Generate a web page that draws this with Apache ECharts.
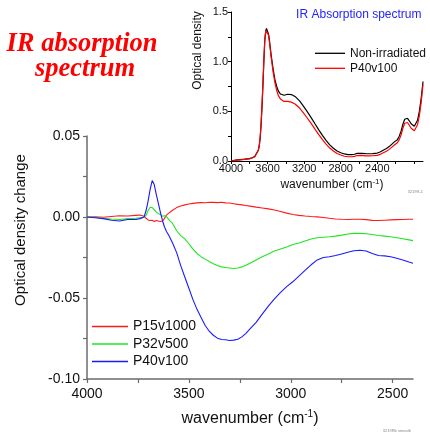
<!DOCTYPE html>
<html>
<head>
<meta charset="utf-8">
<script src="https://cdn.jsdelivr.net/npm/echarts@6/dist/echarts.min.js"></script>
<style>
html,body{margin:0;padding:0;background:#fff;}
#chart{width:430px;height:434px;}
</style>
</head>
<body>
<div id="chart"></div>
<script>
// ---- main chart data (optical density change) ----
const mainWavenumbers = [4000,3960,3920,3880,3840,3800,3760,3740,3720,3710,3700,3690,3680,3670,3660,3650,3640,3630,3620,3610,3600,3580,3560,3540,3520,3500,3480,3460,3440,3420,3400,3380,3360,3340,3320,3300,3280,3260,3240,3220,3200,3170,3140,3110,3080,3050,3020,2990,2960,2930,2900,2870,2840,2810,2780,2750,2720,2690,2660,2630,2600,2570,2540,2510,2480,2450,2420,2400];
const p15v1000 = [0.000,0.0002,-0.0002,0.0003,0.0008,0.0006,0.0010,0.0012,0.0005,-0.0008,
 -0.0018,-0.0022,-0.0020,-0.0028,-0.0022,-0.0025,-0.0028,-0.0025,-0.001,0.0012,
 0.0022,0.0042,0.0058,0.0068,0.0075,0.0080,0.0084,0.0087,0.0089,0.0088,
 0.0091,0.0090,0.0089,0.0091,0.0087,0.0086,0.0082,0.0078,0.0075,0.0071,
 0.0067,0.0061,0.0056,0.0050,0.0043,0.0034,0.0024,0.0015,0.0010,0.0006,
 0.0003,0.0001,-0.0003,-0.0008,-0.0012,-0.0014,-0.0015,-0.0014,-0.0014,-0.0016,
 -0.0021,-0.0022,-0.0020,-0.0018,-0.0016,-0.0015,-0.0014,-0.0014];
const p32v500 = [0.000,-0.0003,-0.0008,-0.0012,-0.0015,-0.001,-0.0008,-0.0005,-0.0002,0.001,
 0.004,0.006,0.0058,0.0045,0.003,0.0022,0.0015,0.0005,0.0008,0.0003,
 -0.0015,-0.004,-0.0085,-0.0115,-0.0135,-0.0165,-0.0198,-0.0225,-0.0245,-0.026,
 -0.0275,-0.0288,-0.030,-0.0308,-0.0312,-0.0315,-0.0318,-0.0315,-0.0308,-0.0298,
 -0.0285,-0.0265,-0.0245,-0.0228,-0.021,-0.0197,-0.0185,-0.017,-0.016,-0.0148,
 -0.0136,-0.0128,-0.0125,-0.0122,-0.0118,-0.0112,-0.0105,-0.0101,-0.0101,-0.0103,
 -0.0108,-0.0114,-0.0118,-0.0122,-0.0128,-0.0134,-0.0141,-0.0146];
const p40v100Change = [0.000,-0.0005,-0.001,-0.002,-0.0025,-0.0015,-0.0015,-0.001,0.000,0.004,
 0.010,0.017,0.0225,0.020,0.014,0.0085,0.003,-0.002,-0.006,-0.009,
 -0.011,-0.016,-0.022,-0.030,-0.037,-0.044,-0.051,-0.057,-0.062,-0.067,
 -0.0705,-0.073,-0.0748,-0.0756,-0.0758,-0.0762,-0.0760,-0.0755,-0.074,-0.0718,
 -0.069,-0.065,-0.060,-0.055,-0.0505,-0.0465,-0.043,-0.040,-0.0365,-0.033,
 -0.0295,-0.0265,-0.025,-0.0245,-0.0238,-0.0228,-0.0218,-0.0208,-0.0205,-0.021,
 -0.0225,-0.0238,-0.024,-0.0245,-0.0255,-0.0265,-0.0278,-0.0286];
const mainXLabels = [4000,3500,3000,2500];
const mainXTicks = [4000,3750,3500,3250,3000,2750,2500];
const mainYLabels = [0.05,0,-0.05,-0.10];
const mainYTicks = [0.05,0.025,0,-0.025,-0.05,-0.075,-0.10];

// ---- inset data (optical density) ----
const insetWavenumbers = [4000,3950,3900,3850,3800,3770,3740,3720,3700,3690,3680,3670,3660,3650,3640,3630,3620,3612,3600,3590,3580,3570,3560,3540,3520,3500,3480,3460,3440,3420,3400,3380,3360,3340,3320,3300,3280,3250,3210,3170,3120,3080,3040,3000,2960,2920,2880,2840,2800,2760,2720,2680,2650,2620,2600,2570,2530,2490,2450,2400,2370,2340,2300,2270,2240,2210,2180,2160,2140,2120,2100,2085,2070,2050,2030,2010,1995,1980,1960,1940,1920,1900];
const nonIrradiated = [0.000,0.008,0.013,0.018,0.024,0.032,0.045,0.065,0.11,0.16,
 0.24,0.38,0.56,0.78,1.02,1.22,1.31,1.335,1.32,1.28,
 1.22,1.14,1.06,0.93,0.82,0.75,0.70,0.675,0.664,0.662,
 0.667,0.672,0.673,0.669,0.66,0.65,0.635,0.605,0.555,0.502,
 0.432,0.372,0.314,0.258,0.208,0.162,0.128,0.100,0.083,0.071,
 0.065,0.064,0.068,0.077,0.080,0.078,0.074,0.073,0.075,0.080,
 0.090,0.105,0.125,0.145,0.170,0.195,0.215,0.25,0.30,0.37,
 0.42,0.437,0.43,0.405,0.375,0.355,0.350,0.36,0.41,0.50,0.63,0.80];
const p40v100Absorb = [0.000,0.006,0.011,0.016,0.022,0.030,0.043,0.063,0.11,0.165,
 0.25,0.40,0.58,0.80,1.03,1.22,1.31,1.33,1.31,1.27,
 1.20,1.12,1.04,0.90,0.79,0.71,0.655,0.625,0.608,0.600,
 0.600,0.600,0.598,0.593,0.584,0.574,0.560,0.533,0.487,0.438,
 0.373,0.318,0.265,0.215,0.170,0.130,0.100,0.075,0.060,0.048,
 0.043,0.043,0.047,0.055,0.058,0.056,0.052,0.051,0.053,0.057,
 0.066,0.080,0.098,0.117,0.140,0.163,0.183,0.215,0.262,0.33,
 0.38,0.395,0.388,0.36,0.33,0.31,0.305,0.315,0.365,0.455,0.59,0.77];
const insetXLabels = [4000,3600,3200,2800,2400];
const insetXTicks = [4000,3800,3600,3400,3200,3000,2800,2600,2400,2200,2000];
const insetYLabels = [0,0.5,1.0,1.5];
const insetYTicks = [0,0.25,0.5,0.75,1.0,1.25,1.5];

function pairs(xs, ys){ return xs.map((x,i)=>[x, ys[i]]); }

const sans = 'Liberation Sans, Arial, sans-serif';
const mainAxisColor = '#6b6b6b';
const chart = echarts.init(document.getElementById('chart'), null, {renderer:'canvas'});
const option = {
  animation: false,
  backgroundColor: '#fff',
  textStyle: {fontFamily: sans},
  graphic: [
    {type:'text', x:82, y:44.5, style:{text:'IR absorption', fill:'#ff0000', font:'italic bold 26.5px "Liberation Serif", "Times New Roman", serif', textAlign:'center', textVerticalAlign:'middle'}},
    {type:'text', x:85, y:69.5, style:{text:'spectrum', fill:'#ff0000', font:'italic bold 26.5px "Liberation Serif", "Times New Roman", serif', textAlign:'center', textVerticalAlign:'middle'}},
    {type:'text', x:421.5, y:15, style:{text:'IR Absorption spectrum', fill:'#2424ff', font:'12px "Liberation Sans", Arial, sans-serif', textAlign:'right', textVerticalAlign:'middle'}},
    {type:'text', x:423, y:191.5, style:{text:'3219R-1', fill:'#888', font:'4px "Liberation Sans", Arial, sans-serif', textAlign:'right', textVerticalAlign:'middle'}},
    {type:'text', x:411, y:430.5, style:{text:'3219Rb smooth', fill:'#888', font:'4px "Liberation Sans", Arial, sans-serif', textAlign:'right', textVerticalAlign:'middle'}}
  ],
  legend: [
    {
      data:['P15v1000','P32v500','P40v100'],
      orient:'vertical', left:92, top:319.5, padding:0,
      icon:'rect', itemWidth:36, itemHeight:1.3, itemGap:3.5,
      textStyle:{fontSize:14, color:'#111', fontFamily:sans},
      selectedMode:false
    },
    {
      data:['Non-irradiated','P40v100 '],
      orient:'vertical', left:315, top:47.3, padding:0,
      icon:'rect', itemWidth:30, itemHeight:1.3, itemGap:3,
      formatter: n => n.trim(),
      textStyle:{fontSize:12, color:'#111', fontFamily:sans},
      selectedMode:false
    }
  ],
  grid: [
    {left:87, right:17, top:136, bottom:55},
    {left:231, right:7, top:12, bottom:273}
  ],
  xAxis: [
    {
      gridIndex:0, type:'value', inverse:true, min:2400, max:4000,
      name:'wavenumber (cm{sup|-1})', nameLocation:'middle', nameGap:30,
      nameTextStyle:{fontSize:16, color:'#111', fontFamily:sans, lineHeight:20,
        rich:{sup:{fontSize:10, verticalAlign:'top', lineHeight:10, color:'#111', fontFamily:sans}}},
      axisLine:{onZero:false, lineStyle:{color:mainAxisColor, width:1.5}},
      axisTick:{show:true, inside:false, length:4, customValues:mainXTicks, lineStyle:{color:mainAxisColor, width:1.2}},
      axisLabel:{customValues:mainXLabels, fontSize:14, color:'#111', margin:8, fontFamily:sans, formatter: v => String(v)},
      splitLine:{show:false}
    },
    {
      gridIndex:1, type:'value', inverse:true, min:1900, max:4000,
      name:'wavenumber (cm{sup|-1})', nameLocation:'middle', nameGap:17,
      nameTextStyle:{fontSize:12, color:'#111', fontFamily:sans, lineHeight:14, padding:[0,0,0,10],
        rich:{sup:{fontSize:8, verticalAlign:'top', lineHeight:8, color:'#111', fontFamily:sans}}},
      axisLine:{onZero:false, lineStyle:{color:'#000', width:1}},
      axisTick:{show:true, inside:false, length:3, customValues:insetXTicks, lineStyle:{color:'#000'}},
      axisLabel:{customValues:insetXLabels, fontSize:11, color:'#111', margin:2, fontFamily:sans, formatter: v => String(v)},
      splitLine:{show:false}
    }
  ],
  yAxis: [
    {
      gridIndex:0, type:'value', min:-0.10, max:0.05, interval:0.05,
      name:'Optical density change', nameLocation:'middle', nameGap:59, nameRotate:90,
      nameTextStyle:{fontSize:15, color:'#111', fontFamily:sans, padding:[0,0,0,55]},
      axisLine:{show:true, onZero:false, lineStyle:{color:mainAxisColor, width:1.5}},
      axisTick:{show:true, inside:false, length:4, customValues:mainYTicks, lineStyle:{color:mainAxisColor, width:1.2}},
      axisLabel:{customValues:mainYLabels, fontSize:14, color:'#111', margin:7, fontFamily:sans,
        formatter: v => (Math.abs(v) < 1e-9 ? 0 : v).toFixed(2)},
      splitLine:{show:false}
    },
    {
      gridIndex:1, type:'value', min:0, max:1.5, interval:0.5,
      name:'Optical density', nameLocation:'middle', nameGap:27, nameRotate:90,
      nameTextStyle:{fontSize:12, color:'#111', fontFamily:sans, padding:[0,0,0,72]},
      axisLine:{show:true, onZero:false, lineStyle:{color:'#000', width:1}},
      axisTick:{show:true, inside:false, length:3, customValues:insetYTicks, lineStyle:{color:'#000'}},
      axisLabel:{customValues:insetYLabels, fontSize:11, color:'#111', margin:3, fontFamily:sans,
        formatter: v => v.toFixed(1)},
      splitLine:{show:false}
    }
  ],
  series: [
    {name:'P15v1000', type:'line', xAxisIndex:0, yAxisIndex:0, symbol:'none', data:pairs(mainWavenumbers,p15v1000), lineStyle:{color:'#ff1a1a', width:1.1}, itemStyle:{color:'#ff1a1a'}},
    {name:'P32v500', type:'line', xAxisIndex:0, yAxisIndex:0, symbol:'none', data:pairs(mainWavenumbers,p32v500), lineStyle:{color:'#1ee61e', width:1.1}, itemStyle:{color:'#1ee61e'}},
    {name:'P40v100', type:'line', xAxisIndex:0, yAxisIndex:0, symbol:'none', data:pairs(mainWavenumbers,p40v100Change), lineStyle:{color:'#1a1aff', width:1.1}, itemStyle:{color:'#1a1aff'}},
    {name:'Non-irradiated', type:'line', xAxisIndex:1, yAxisIndex:1, symbol:'none', data:pairs(insetWavenumbers,nonIrradiated), lineStyle:{color:'#000', width:1.2}, itemStyle:{color:'#000'}},
    {name:'P40v100 ', type:'line', xAxisIndex:1, yAxisIndex:1, symbol:'none', data:pairs(insetWavenumbers,p40v100Absorb), lineStyle:{color:'#ff0000', width:1.2}, itemStyle:{color:'#ff0000'}}
  ]
};
chart.setOption(option);
</script>
</body>
</html>
